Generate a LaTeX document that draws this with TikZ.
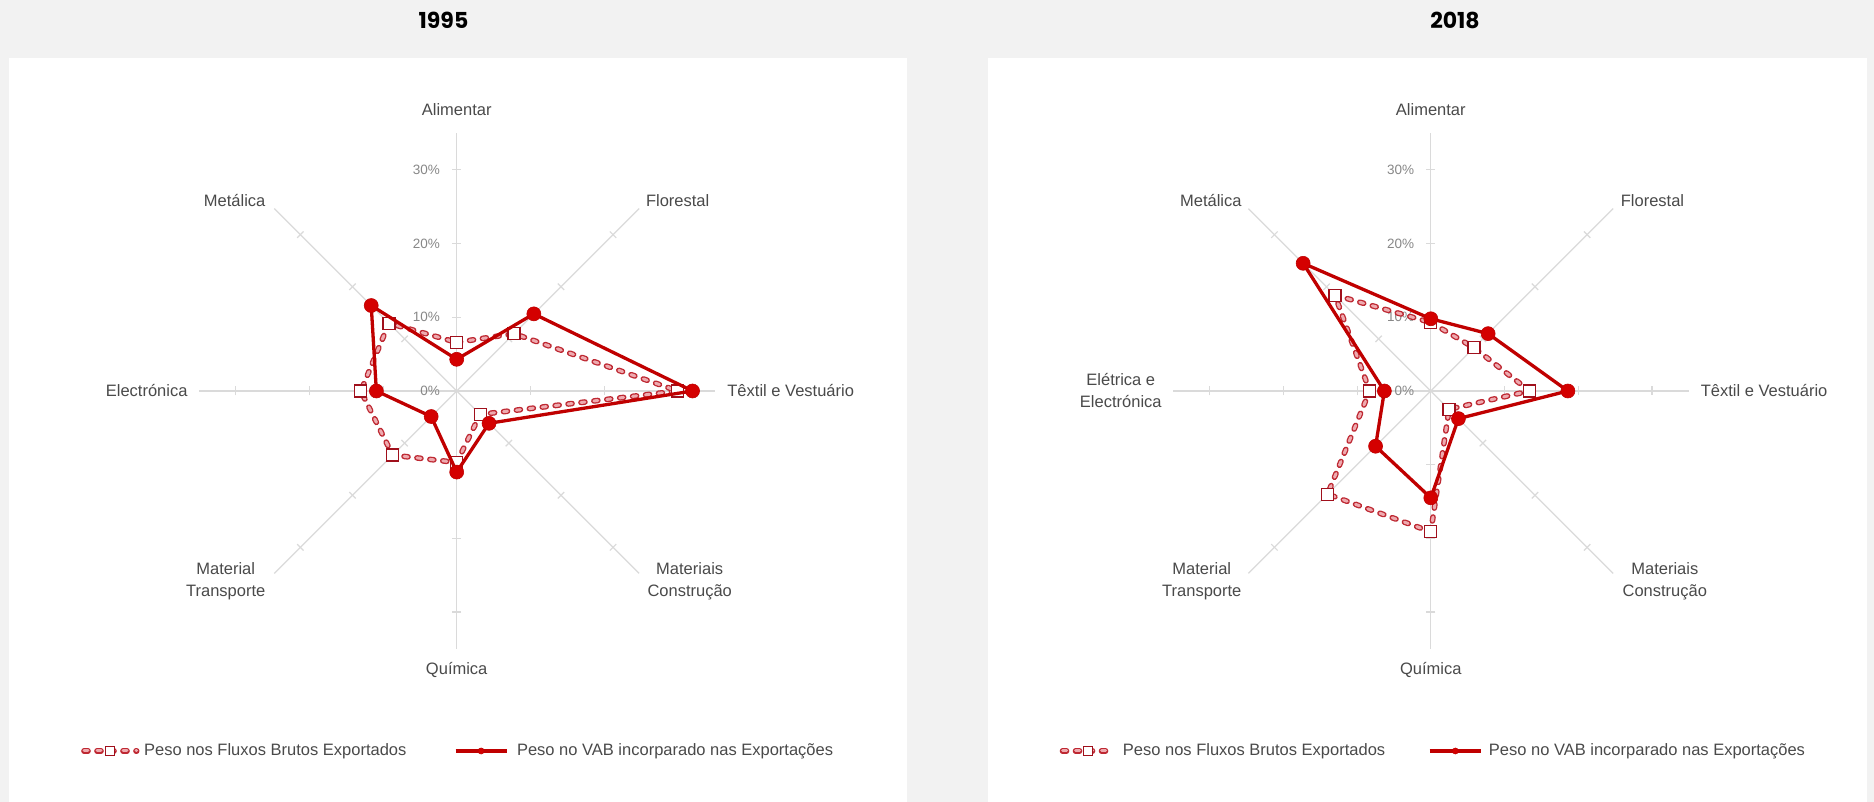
\documentclass[tikz,border=0pt]{standalone}
\usepackage{fontspec}
\setmainfont{Liberation Sans}
\newfontfamily\titlefont{Poppins}
\usetikzlibrary{calc}
\definecolor{bggray}{HTML}{F2F2F2}
\definecolor{axisgray}{HTML}{DADADA}
\definecolor{labelgray}{HTML}{4A4A4A}
\definecolor{tickgray}{HTML}{888888}
\definecolor{solidred}{HTML}{C00000}
\definecolor{dotred}{HTML}{D40000}
\definecolor{dashouter}{HTML}{BE2832}
\definecolor{dashinner}{HTML}{EEAAAF}
\definecolor{sqedge}{HTML}{A0101C}
\def\U{7.37}
\tikzset{
  axisline/.style={draw=axisgray, line width=1.2pt},
  catlabel/.style={text=labelgray, font=\fontsize{16.5}{22}\selectfont, align=center, inner sep=0pt},
  ticklabel/.style={text=tickgray, font=\fontsize{13.5}{16}\selectfont, anchor=east, inner sep=0pt},
  solidline/.style={draw=solidred, line width=3.3pt, line join=round},
  dashline/.style={draw=dashouter, line width=1.3pt, double=dashinner, double distance=3pt, dash pattern=on 4pt off 9pt, line cap=round, line join=round},
  dotmark/.style={circle, fill=dotred, draw=solidred, line width=0.6pt, minimum size=14pt, inner sep=0pt},
  sqmark/.style={rectangle, fill=white, draw=sqedge, line width=1.2pt, minimum size=12pt, inner sep=0pt},
  titletext/.style={text=black, font={\titlefont\fontsize{22}{27}\selectfont\bfseries}, inner sep=0pt},
}
\begin{document}
\begin{tikzpicture}[x=1pt,y=1pt]
\useasboundingbox (0,0) rectangle (1874,802);
\fill[bggray] (0,0) rectangle (1874,802);
\fill[white] (9,0) rectangle (906.7,744);
\fill[white] (988,0) rectangle (1867,744);

% titles
\node[titletext] (title1) at (443.5,781.5) {1995};
\node[titletext] (title2) at (1455,781.5) {2018};

% ---------- chart 1995 ----------
\begin{scope}[shift={(456.7,411)}]
  \foreach \a in {0,45,...,315} {
    \draw[axisline] (0,0) -- (\a:257.95);
    \foreach \t in {10,20,30} {
      \draw[axisline] ($(\a:\t*\U)+(\a+90:4.5)$) -- ($(\a:\t*\U)+(\a-90:4.5)$);
    }
  }
  \node[ticklabel] (Lt0) at (-16.5,0) {0\%};
  \node[ticklabel] (Lt1) at (-16.5,73.7) {10\%};
  \node[ticklabel] (Lt2) at (-16.5,147.4) {20\%};
  \node[ticklabel] (Lt3) at (-16.5,221.1) {30\%};

  \node[catlabel] (Lc1) at (0,281) {Alimentar};
  \node[catlabel] (Lc2) at (221,190.5) {Florestal};
  \node[catlabel, anchor=west] (Lc3) at (270.5,0) {Têxtil e Vestuário};
  \node[catlabel] (Lc4) at (233,-190) {Materiais\\Construção};
  \node[catlabel] (Lc5) at (0,-279) {Química};
  \node[catlabel] (Lc6) at (-231,-190) {Material\\Transporte};
  \node[catlabel, anchor=east] (Lc7) at (-269,0) {Electrónica};
  \node[catlabel] (Lc8) at (-222,190.5) {Metálica};

  \foreach \v [count=\i] in {6.6,11.0,30.0,4.5,9.7,12.3,13.0,13.0} {
    \pgfmathsetmacro\ang{135-45*\i}
    \coordinate (Ld\i) at (\ang:\v*\U);
  }
  \foreach \v [count=\i] in {4.3,14.8,32.0,6.2,11.0,4.9,10.9,16.4} {
    \pgfmathsetmacro\ang{135-45*\i}
    \coordinate (Ls\i) at (\ang:\v*\U);
  }
  \draw[dashline] (Ld1) -- (Ld2) -- (Ld3) -- (Ld4) -- (Ld5) -- (Ld6) -- (Ld7) -- (Ld8) -- cycle;
  \foreach \i in {1,...,8} { \node[sqmark] (Ldm\i) at (Ld\i) {}; }
  \draw[solidline] (Ls1) -- (Ls2) -- (Ls3) -- (Ls4) -- (Ls5) -- (Ls6) -- (Ls7) -- (Ls8) -- cycle;
  \foreach \i in {1,...,8} { \node[dotmark] (Lsm\i) at (Ls\i) {}; }
\end{scope}

% ---------- chart 2018 ----------
\begin{scope}[shift={(1430.8,411)}]
  \foreach \a in {0,45,...,315} {
    \draw[axisline] (0,0) -- (\a:257.95);
    \foreach \t in {10,20,30} {
      \draw[axisline] ($(\a:\t*\U)+(\a+90:4.5)$) -- ($(\a:\t*\U)+(\a-90:4.5)$);
    }
  }
  \node[ticklabel] (Rt0) at (-16.5,0) {0\%};
  \node[ticklabel] (Rt1) at (-16.5,73.7) {10\%};
  \node[ticklabel] (Rt2) at (-16.5,147.4) {20\%};
  \node[ticklabel] (Rt3) at (-16.5,221.1) {30\%};

  \node[catlabel] (Rc1) at (0,281) {Alimentar};
  \node[catlabel] (Rc2) at (221.7,190.5) {Florestal};
  \node[catlabel, anchor=west] (Rc3) at (269.8,0) {Têxtil e Vestuário};
  \node[catlabel] (Rc4) at (234,-190) {Materiais\\Construção};
  \node[catlabel] (Rc5) at (0,-279) {Química};
  \node[catlabel] (Rc6) at (-229,-190) {Material\\Transporte};
  \node[catlabel, anchor=east] (Rc7) at (-269,0) {Elétrica e\\Electrónica};
  \node[catlabel] (Rc8) at (-220,190.5) {Metálica};

  \foreach \v [count=\i] in {9.3,8.3,13.4,3.5,19.1,19.8,8.3,18.4} {
    \pgfmathsetmacro\ang{135-45*\i}
    \coordinate (Rd\i) at (\ang:\v*\U);
  }
  \foreach \v [count=\i] in {9.8,11.0,18.6,5.3,14.5,10.6,6.3,24.5} {
    \pgfmathsetmacro\ang{135-45*\i}
    \coordinate (Rs\i) at (\ang:\v*\U);
  }
  \draw[dashline] (Rd1) -- (Rd2) -- (Rd3) -- (Rd4) -- (Rd5) -- (Rd6) -- (Rd7) -- (Rd8) -- cycle;
  \foreach \i in {1,...,8} { \node[sqmark] (Rdm\i) at (Rd\i) {}; }
  \draw[solidline] (Rs1) -- (Rs2) -- (Rs3) -- (Rs4) -- (Rs5) -- (Rs6) -- (Rs7) -- (Rs8) -- cycle;
  \foreach \i in {1,...,8} { \node[dotmark] (Rsm\i) at (Rs\i) {}; }
\end{scope}

% ---------- legends ----------
\coordinate (lda) at (84,51);
\coordinate (ldb) at (136.7,51);
\draw[dashline] (lda) -- (ldb);
\node[sqmark, minimum size=9pt] (ldm) at ($(lda)!0.5!(ldb)$) {};
\node[catlabel, anchor=west] (ldt) at (143.9,51) {Peso nos Fluxos Brutos Exportados};
\coordinate (lsa) at (455.6,51);
\coordinate (lsb) at (506.6,51);
\draw[solidline] (lsa) -- (lsb);
\node[dotmark, minimum size=6pt] (lsm) at ($(lsa)!0.5!(lsb)$) {};
\node[catlabel, anchor=west] (lst) at (516.8,51) {Peso no VAB incorparado nas Exportações};

\coordinate (rda) at (1062.5,51);
\coordinate (rdb) at (1113.6,51);
\draw[dashline] (rda) -- (rdb);
\node[sqmark, minimum size=9pt] (rdm) at ($(rda)!0.5!(rdb)$) {};
\node[catlabel, anchor=west] (rdt) at (1122.7,51) {Peso nos Fluxos Brutos Exportados};
\coordinate (rsa) at (1429.7,51);
\coordinate (rsb) at (1481,51);
\draw[solidline] (rsa) -- (rsb);
\node[dotmark, minimum size=6pt] (rsm) at ($(rsa)!0.5!(rsb)$) {};
\node[catlabel, anchor=west] (rst) at (1488.7,51) {Peso no VAB incorparado nas Exportações};
\end{tikzpicture}
\end{document}
